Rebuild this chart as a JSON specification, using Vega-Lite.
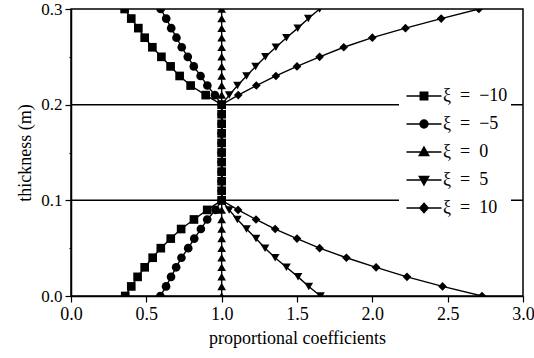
{
  "$schema": "https://vega.github.io/schema/vega-lite/v6.json",
  "width": 452,
  "height": 287,
  "autosize": {"type": "none"},
  "padding": {"left": 71, "top": 9, "right": 11, "bottom": 62},
  "background": "white",
  "config": {
    "view": {"stroke": "black", "strokeWidth": 1.5},
    "font": "Liberation Serif",
    "axis": {
      "domainColor": "black", "domainWidth": 1.5, "tickColor": "black", "tickWidth": 1.2,
      "labelColor": "black", "titleColor": "black", "labelFont": "Liberation Serif",
      "titleFont": "Liberation Serif", "labelFontSize": 18, "titleFontSize": 18,
      "titleFontWeight": "normal", "grid": false, "labelFlush": false, "labelOverlap": false
    },
    "axisY": {"labelFontSize": 17}
  },
  "datasets": {
    "pts": [
      {"s":-10,"x":0.36,"y":0},{"s":-10,"x":0.40,"y":0.01},{"s":-10,"x":0.442,"y":0.02},{"s":-10,"x":0.489,"y":0.03},{"s":-10,"x":0.542,"y":0.04},{"s":-10,"x":0.596,"y":0.05},{"s":-10,"x":0.662,"y":0.06},{"s":-10,"x":0.731,"y":0.07},{"s":-10,"x":0.816,"y":0.08},{"s":-10,"x":0.904,"y":0.09},
      {"s":-10,"x":1,"y":0.1},{"s":-10,"x":1,"y":0.11},{"s":-10,"x":1,"y":0.12},{"s":-10,"x":1,"y":0.13},{"s":-10,"x":1,"y":0.14},{"s":-10,"x":1,"y":0.15},{"s":-10,"x":1,"y":0.16},{"s":-10,"x":1,"y":0.17},{"s":-10,"x":1,"y":0.18},{"s":-10,"x":1,"y":0.19},{"s":-10,"x":1,"y":0.2},
      {"s":-10,"x":0.894,"y":0.21},{"s":-10,"x":0.794,"y":0.22},{"s":-10,"x":0.721,"y":0.23},{"s":-10,"x":0.661,"y":0.24},{"s":-10,"x":0.60,"y":0.25},{"s":-10,"x":0.54,"y":0.26},{"s":-10,"x":0.489,"y":0.27},{"s":-10,"x":0.447,"y":0.28},{"s":-10,"x":0.40,"y":0.29},{"s":-10,"x":0.356,"y":0.3},
      {"s":-5,"x":0.593,"y":0},{"s":-5,"x":0.631,"y":0.01},{"s":-5,"x":0.664,"y":0.02},{"s":-5,"x":0.698,"y":0.03},{"s":-5,"x":0.733,"y":0.04},{"s":-5,"x":0.778,"y":0.05},{"s":-5,"x":0.818,"y":0.06},{"s":-5,"x":0.862,"y":0.07},{"s":-5,"x":0.904,"y":0.08},{"s":-5,"x":0.96,"y":0.09},
      {"s":-5,"x":1,"y":0.1},{"s":-5,"x":1,"y":0.11},{"s":-5,"x":1,"y":0.12},{"s":-5,"x":1,"y":0.13},{"s":-5,"x":1,"y":0.14},{"s":-5,"x":1,"y":0.15},{"s":-5,"x":1,"y":0.16},{"s":-5,"x":1,"y":0.17},{"s":-5,"x":1,"y":0.18},{"s":-5,"x":1,"y":0.19},{"s":-5,"x":1,"y":0.2},
      {"s":-5,"x":0.955,"y":0.21},{"s":-5,"x":0.905,"y":0.22},{"s":-5,"x":0.86,"y":0.23},{"s":-5,"x":0.815,"y":0.24},{"s":-5,"x":0.775,"y":0.25},{"s":-5,"x":0.735,"y":0.26},{"s":-5,"x":0.70,"y":0.27},{"s":-5,"x":0.665,"y":0.28},{"s":-5,"x":0.632,"y":0.29},{"s":-5,"x":0.595,"y":0.3},
      {"s":0,"x":1,"y":0},{"s":0,"x":1,"y":0.01},{"s":0,"x":1,"y":0.02},{"s":0,"x":1,"y":0.03},{"s":0,"x":1,"y":0.04},{"s":0,"x":1,"y":0.05},{"s":0,"x":1,"y":0.06},{"s":0,"x":1,"y":0.07},{"s":0,"x":1,"y":0.08},{"s":0,"x":1,"y":0.09},
      {"s":0,"x":1,"y":0.1},{"s":0,"x":1,"y":0.11},{"s":0,"x":1,"y":0.12},{"s":0,"x":1,"y":0.13},{"s":0,"x":1,"y":0.14},{"s":0,"x":1,"y":0.15},{"s":0,"x":1,"y":0.16},{"s":0,"x":1,"y":0.17},{"s":0,"x":1,"y":0.18},{"s":0,"x":1,"y":0.19},{"s":0,"x":1,"y":0.2},
      {"s":0,"x":1,"y":0.21},{"s":0,"x":1,"y":0.22},{"s":0,"x":1,"y":0.23},{"s":0,"x":1,"y":0.24},{"s":0,"x":1,"y":0.25},{"s":0,"x":1,"y":0.26},{"s":0,"x":1,"y":0.27},{"s":0,"x":1,"y":0.28},{"s":0,"x":1,"y":0.29},{"s":0,"x":1,"y":0.3},
      {"s":5,"x":1.656,"y":0},{"s":5,"x":1.578,"y":0.01},{"s":5,"x":1.507,"y":0.02},{"s":5,"x":1.43,"y":0.03},{"s":5,"x":1.355,"y":0.04},{"s":5,"x":1.288,"y":0.05},{"s":5,"x":1.228,"y":0.06},{"s":5,"x":1.165,"y":0.07},{"s":5,"x":1.104,"y":0.08},{"s":5,"x":1.05,"y":0.09},
      {"s":5,"x":1,"y":0.1},{"s":5,"x":1,"y":0.11},{"s":5,"x":1,"y":0.12},{"s":5,"x":1,"y":0.13},{"s":5,"x":1,"y":0.14},{"s":5,"x":1,"y":0.15},{"s":5,"x":1,"y":0.16},{"s":5,"x":1,"y":0.17},{"s":5,"x":1,"y":0.18},{"s":5,"x":1,"y":0.19},{"s":5,"x":1,"y":0.2},
      {"s":5,"x":1.05,"y":0.21},{"s":5,"x":1.105,"y":0.22},{"s":5,"x":1.165,"y":0.23},{"s":5,"x":1.225,"y":0.24},{"s":5,"x":1.29,"y":0.25},{"s":5,"x":1.36,"y":0.26},{"s":5,"x":1.43,"y":0.27},{"s":5,"x":1.505,"y":0.28},{"s":5,"x":1.575,"y":0.29},{"s":5,"x":1.65,"y":0.3},
      {"s":10,"x":2.728,"y":0},{"s":10,"x":2.466,"y":0.01},{"s":10,"x":2.23,"y":0.02},{"s":10,"x":2.025,"y":0.03},{"s":10,"x":1.828,"y":0.04},{"s":10,"x":1.65,"y":0.05},{"s":10,"x":1.50,"y":0.06},{"s":10,"x":1.355,"y":0.07},{"s":10,"x":1.228,"y":0.08},{"s":10,"x":1.109,"y":0.09},
      {"s":10,"x":1,"y":0.1},{"s":10,"x":1,"y":0.11},{"s":10,"x":1,"y":0.12},{"s":10,"x":1,"y":0.13},{"s":10,"x":1,"y":0.14},{"s":10,"x":1,"y":0.15},{"s":10,"x":1,"y":0.16},{"s":10,"x":1,"y":0.17},{"s":10,"x":1,"y":0.18},{"s":10,"x":1,"y":0.19},{"s":10,"x":1,"y":0.2},
      {"s":10,"x":1.11,"y":0.21},{"s":10,"x":1.23,"y":0.22},{"s":10,"x":1.36,"y":0.23},{"s":10,"x":1.50,"y":0.24},{"s":10,"x":1.65,"y":0.25},{"s":10,"x":1.81,"y":0.26},{"s":10,"x":2.0,"y":0.27},{"s":10,"x":2.22,"y":0.28},{"s":10,"x":2.457,"y":0.29},{"s":10,"x":2.707,"y":0.3}
    ]
  },
  "layer": [
    {
      "data": {"values": [{"t": 0.1}, {"t": 0.2}]},
      "mark": {"type": "rule", "color": "black", "strokeWidth": 1.5},
      "encoding": {
        "y": {"field": "t", "type": "quantitative", "scale": {"domain": [0, 0.3], "nice": false, "zero": false},
          "axis": {"values": [0, 0.05, 0.1, 0.15, 0.2, 0.25, 0.3], "title": "thickness (m)", "titlePadding": 6, "labelPadding": 3,
            "labelExpr": "abs(datum.value*10 - round(datum.value*10)) < 0.001 ? format(datum.value, '.1f') : ''",
            "tickSize": {"condition": {"test": "abs(datum.value*10 - round(datum.value*10)) < 0.001", "value": 6}, "value": 2}}}
      }
    },
    {
      "data": {"name": "pts"},
      "mark": {"type": "line", "color": "black", "strokeWidth": 1.4, "clip": true},
      "encoding": {
        "x": {"field": "x", "type": "quantitative", "scale": {"domain": [0, 3], "nice": false, "zero": false},
          "axis": {"values": [0, 0.25, 0.5, 0.75, 1, 1.25, 1.5, 1.75, 2, 2.25, 2.5, 2.75, 3], "title": "proportional coefficients", "titlePadding": 6, "labelPadding": 3,
            "labelExpr": "datum.value % 0.5 == 0 ? format(datum.value, '.1f') : ''",
            "tickSize": {"condition": {"test": "datum.value % 0.5 == 0", "value": 6}, "value": 3}}},
        "y": {"field": "y", "type": "quantitative", "scale": {"domain": [0, 0.3], "nice": false, "zero": false},
          "axis": {"values": [0, 0.05, 0.1, 0.15, 0.2, 0.25, 0.3], "title": "thickness (m)", "titlePadding": 6, "labelPadding": 3,
            "labelExpr": "abs(datum.value*10 - round(datum.value*10)) < 0.001 ? format(datum.value, '.1f') : ''",
            "tickSize": {"condition": {"test": "abs(datum.value*10 - round(datum.value*10)) < 0.001", "value": 6}, "value": 2}}},
        "detail": {"field": "s", "type": "nominal"},
        "order": {"field": "y", "type": "quantitative"}
      }
    },
    {
      "data": {"name": "pts"},
      "layer": [
        {
          "mark": {"type": "point", "filled": true, "color": "black", "opacity": 1, "clip": true},
          "encoding": {
            "x": {"field": "x", "type": "quantitative"},
            "y": {"field": "y", "type": "quantitative"},
            "shape": {"field": "s", "type": "nominal", "scale": {"domain": [-10, -5, 0, 5, 10], "range": ["square", "circle", "triangle-up", "triangle-down", "diamond"]}, "legend": null},
            "size": {"field": "s", "type": "nominal", "scale": {"domain": [-10, -5, 0, 5, 10], "range": [75, 75, 170, 140, 95]}, "legend": null}
          }
        },
        {
          "mark": {"type": "point", "filled": false, "color": "black", "strokeWidth": 1.4, "opacity": 0, "clip": true},
          "encoding": {
            "x": {"field": "x", "type": "quantitative"},
            "y": {"field": "y", "type": "quantitative"},
            "shape": {"field": "s", "type": "nominal",
              "scale": {"domain": [-10, -5, 0, 5, 10], "range": [
                "M-3.5,0H3.5M-0.75,-0.75H0.75V0.75H-0.75ZM-0.75,-0.5H0.75M-0.75,-0.25H0.75M-0.75,0.25H0.75M-0.75,0.5H0.75",
                "M-3.5,0H3.5M0.8,0A0.8,0.8,0,1,1,-0.8,0A0.8,0.8,0,1,1,0.8,0ZM-0.76,-0.25H0.76M-0.76,0.25H0.76M-0.62,-0.5H0.62M-0.62,0.5H0.62M-0.39,-0.7H0.39M-0.39,0.7H0.39",
                "M-3.5,0H3.5M0,-1L0.95,0.7H-0.95ZM-0.14,-0.75H0.14M-0.28,-0.5H0.28M-0.42,-0.25H0.42M-0.7,0.25H0.7M-0.84,0.5H0.84",
                "M-3.5,0H3.5M0,1L0.95,-0.7H-0.95ZM-0.14,0.75H0.14M-0.28,0.5H0.28M-0.42,0.25H0.42M-0.7,-0.25H0.7M-0.84,-0.5H0.84",
                "M-3.5,0H3.5M0,-0.95L0.85,0L0,0.95L-0.85,0ZM-0.63,-0.25H0.63M-0.63,0.25H0.63M-0.4,-0.5H0.4M-0.4,0.5H0.4M-0.18,-0.75H0.18M-0.18,0.75H0.18"]},
              "legend": {"title": null, "orient": "none", "legendX": 328, "legendY": 75, "fillColor": "white", "padding": 3,
                "symbolSize": 100, "symbolOffset": 13, "labelOffset": 10, "labelFontSize": 18,
                "labelFont": "Liberation Serif", "symbolStrokeWidth": 1.4, "symbolStrokeColor": "black",
                "labelColor": "black", "rowPadding": 10,
                "labelExpr": "'ξ\u2002=\u2002' + (datum.value < 0 ? '\u2212' + abs(datum.value) : datum.value)"}
            }
          }
        }
      ],
      "resolve": {"scale": {"shape": "independent"}}
    }
  ]
}
